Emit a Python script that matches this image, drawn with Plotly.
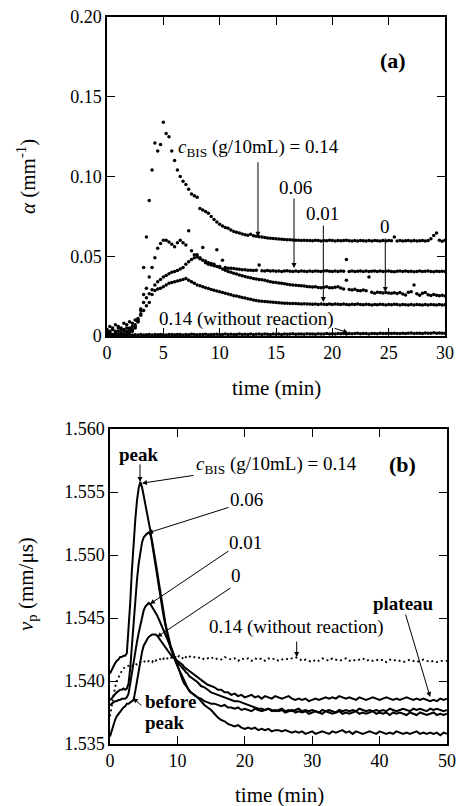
import plotly.graph_objects as go

# ---------------- DATA ----------------
# Panel (a): attenuation alpha, in 10^-3 mm^-1, sampled every 0.25 min from 0 to 30 min
t_a = [i * 0.25 for i in range(121)]

a_014 = [4, 6, 5, 7, 6, 5, 8, 7, 9, 8, 10, 11,
         16, 43, 62, 85, 104, 121, 116, 120, 134, 127, 125, 116,
         110, 104, 100, 97, 95, 92, 89, 88, 87, 80, 79, 78,
         77, 75, 73, 71.5, 70, 69, 68, 67.5, 66.5, 65.5, 65, 64.5,
         64, 63.5, 63.2, 63.8, 62.8, 62.5, 62.2, 62, 61.8, 61.5, 61.3, 61.1,
         61, 60.8, 60.6, 60.5, 60.4, 60.3, 60.2, 60, 60.1, 59.9, 60, 59.8,
         59.9, 59.7, 60, 59.8, 59.6, 59.9, 59.7, 60, 59.8, 59.6, 59.9, 59.7,
         59.8, 60, 59.7, 59.5, 59.8, 59.6, 59.9, 59.7, 59.5, 59.8, 59.6, 59.9,
         59.7, 59.5, 59.8, 59.6, 59.9, 59.7, 62, 59.6, 59.8, 59.5, 59.7, 59.9,
         59.6, 59.8, 59.5, 59.7, 59.9, 59.6, 59.8, 61, 63, 64.5, 60, 59.4,
         60]

a_006 = [3, 2, 4, 3, 5, 4, 3, 5, 4, 6, 7, 10,
         17, 26, 30, 37, 43, 49, 55, 58, 60, 60, 59, 57.5,
         56, 58.5, 60, 58.5, 57, 66, 53.5, 51, 49.5, 48.5, 47.5, 47,
         46, 45.5, 45, 54, 43.5, 47.5, 43, 42.5, 42.5, 42.3, 42, 41.8,
         41.6, 41.5, 41.3, 41.2, 41, 41.3, 44.5, 40.9, 40.8, 41, 40.7, 40.9,
         40.6, 40.8, 40.5, 40.7, 40.9, 40.6, 40.4, 40.7, 40.5, 40.8, 40.6, 40.4,
         40.7, 40.5, 40.8, 40.6, 40.4, 40.7, 40.9, 40.6, 40.4, 40.7, 40.5, 40.8,
         40.6, 48, 40.5, 40.7, 40.4, 40.6, 40.8, 40.5, 40.7, 40.4, 40.6, 40.8,
         40.5, 40.7, 40.4, 40.6, 40.8, 40.5, 40.3, 40.6, 40.8, 40.5, 40.7, 40.4,
         40.6, 40.3, 40.5, 40.7, 40.4, 40.6, 40.8, 40.5, 40.3, 40.6, 40.4, 40.6,
         40.5]

a_001 = [2, 3, 1, 2, 3, 2, 4, 3, 5, 4, 6, 9,
         14, 21, 24, 26.5, 29, 32, 34, 35.5, 37, 38, 39, 40,
         40.5, 41, 42, 43, 45, 46.5, 48, 49, 51, 49, 55.5, 46,
         45, 44.5, 44, 43.5, 43, 42, 41.3, 40.5, 40, 39.3, 38.8, 38.2,
         37.8, 37.3, 36.8, 36.5, 36, 35.8, 35.5, 35.3, 35, 34.5, 34, 33.7,
         33.5, 33.2, 33, 32.8, 32.5, 32.2, 32, 31.8, 31.7, 31.5, 31.3, 31,
         30.8, 30.7, 30.8, 30.4, 30.2, 30.5, 30.8, 30.3, 30.2, 30.6, 30.9, 30.1,
         29.5, 35, 29.2, 28.8, 29.3, 28.6, 28.3, 28.9, 28.4, 37, 27.5, 26.8,
         27.5, 27.2, 27, 27.3, 27, 26.8, 27.1, 26.6, 27.2, 26.3, 25.7, 27.5,
         27.8, 32, 26.5, 25.6, 26.8, 27.3, 25.8, 25.4, 26, 25.5, 25.2, 25.5,
         25]

a_000 = [1, 1.5, 1, 0.5, 1, 1.5, 1, 2, 2.5, 3, 5, 9,
         13, 16, 19, 21, 26, 28.5, 29.5, 30, 30.8, 32, 33, 33.5,
         34, 34.5, 35, 35.5, 36, 35, 34, 33, 32, 31.5, 30.8, 30.2,
         29.8, 29.2, 28.7, 28.2, 27.8, 27.2, 26.8, 26.3, 25.8, 25.3, 25, 24.6,
         24.2, 23.8, 23.4, 23, 22.6, 22.3, 22, 21.8, 21.6, 21.4, 21.3, 21.1,
         21, 20.9, 20.7, 20.6, 20.5, 20.4, 20.3, 20.3, 20.2, 20.1, 20.2, 20,
         20.1, 19.9, 20, 19.8, 20.1, 19.9, 19.7, 20, 19.8, 20.1, 19.9, 19.7,
         20, 19.8, 19.6, 19.9, 19.7, 20, 19.8, 19.6, 19.9, 19.7, 19.5, 19.8,
         19.6, 19.9, 19.7, 19.5, 19.8, 19.6, 19.9, 19.7, 19.5, 19.8, 19.6, 19.4,
         19.7, 19.5, 19.8, 19.6, 19.4, 19.7, 19.5, 19.8, 19.6, 19.4, 19.7, 19.5,
         19.6]

a_014_noreact = [0.5, 0.8, 0.6, 0.9, 0.7, 0.5, 0.8, 0.6, 0.9, 0.7, 0.8, 0.6,
                 0.9, 0.7, 0.8, 1.0, 0.7, 0.9, 0.8, 1.0, 0.8, 0.7, 1.0, 0.9,
                 0.8, 1.0, 0.9, 0.7, 1.0, 0.8, 1.1, 0.9, 0.8, 1.0, 0.9, 1.1,
                 0.8, 1.0, 0.9, 1.1, 0.9, 1.0, 1.2, 0.9, 1.1, 1.0, 0.9, 1.2,
                 1.0, 1.1, 0.9, 1.2, 1.0, 1.1, 1.3, 1.0, 1.2, 1.1, 1.0, 1.3,
                 1.1, 1.2, 1.0, 1.3, 1.1, 1.2, 1.4, 1.1, 1.3, 1.2, 1.1, 1.4,
                 1.2, 1.3, 1.1, 1.4, 1.2, 1.3, 1.5, 1.2, 1.4, 1.3, 1.6, 1.4,
                 1.5, 1.3, 1.6, 1.4, 1.5, 1.7, 1.4, 1.6, 1.5, 1.3, 1.6, 1.5,
                 1.4, 1.7, 1.5, 1.6, 1.8, 1.5, 1.7, 1.6, 1.5, 1.8, 1.6, 1.7,
                 1.9, 1.6, 1.8, 1.7, 1.6, 1.9, 1.7, 1.8, 2.0, 1.7, 1.9, 1.8,
                 1.8]

# Panel (b): phase velocity v_p (mm/us); every 0.25 min up to 12 min, then every 0.5 min to 50 min
t_b = [i * 0.25 for i in range(49)] + [12.5 + i * 0.5 for i in range(76)]

v_014 = [1.5406, 1.5409, 1.5411, 1.5414, 1.5416, 1.5417, 1.5419, 1.5419, 1.5420, 1.5420, 1.5422, 1.5440,
         1.5462, 1.5488, 1.5510, 1.5528, 1.5543, 1.5553, 1.5558, 1.5554, 1.5547, 1.5540, 1.5535, 1.5528,
         1.5519, 1.5509, 1.5500, 1.5491, 1.5482, 1.5474, 1.5466, 1.5458, 1.5450, 1.5443, 1.5437, 1.5431,
         1.5426, 1.5422, 1.5419, 1.5415, 1.5412, 1.5409, 1.5406, 1.5403, 1.5400, 1.5397, 1.5394, 1.5392,
         1.5391,
         1.5389, 1.5387, 1.5384, 1.5381, 1.5379, 1.5377, 1.5374, 1.5371, 1.5369, 1.5368,
         1.5366, 1.5365, 1.5364, 1.5365, 1.5363, 1.5362, 1.5363, 1.5362, 1.5363, 1.5361,
         1.5362, 1.5361, 1.5362, 1.5360, 1.5361, 1.5361, 1.5360, 1.5361, 1.5360, 1.5359,
         1.5360, 1.5359, 1.5360, 1.5358, 1.5359, 1.5360, 1.5358, 1.5359, 1.5360, 1.5359,
         1.5358, 1.5360, 1.5359, 1.5360, 1.5361, 1.5359, 1.5360, 1.5358, 1.5360, 1.5359,
         1.5358, 1.5359, 1.5360, 1.5359, 1.5358, 1.5360, 1.5359, 1.5358, 1.5359, 1.5358,
         1.5360, 1.5359, 1.5358, 1.5359, 1.5358, 1.5359, 1.5360, 1.5358, 1.5359, 1.5358,
         1.5359, 1.5358, 1.5359, 1.5357, 1.5359, 1.5358]

v_006 = [1.5385, 1.5386, 1.5388, 1.5390, 1.5391, 1.5392, 1.5393, 1.5393, 1.5394, 1.5393, 1.5394, 1.5398,
         1.5410, 1.5428, 1.5447, 1.5465, 1.5480, 1.5493, 1.5503, 1.5510, 1.5514, 1.5516, 1.5517, 1.5518,
         1.5516, 1.5511, 1.5504, 1.5496, 1.5487, 1.5478, 1.5469, 1.5460, 1.5452, 1.5445, 1.5439, 1.5433,
         1.5428, 1.5424, 1.5420, 1.5416, 1.5413, 1.5409, 1.5405, 1.5401, 1.5398, 1.5396, 1.5394, 1.5392,
         1.5391,
         1.5389, 1.5387, 1.5386, 1.5384, 1.5383, 1.5382, 1.5382, 1.5381, 1.5380, 1.5381,
         1.5379, 1.5379, 1.5378, 1.5379, 1.5377, 1.5378, 1.5377, 1.5376, 1.5378, 1.5377,
         1.5376, 1.5377, 1.5378, 1.5376, 1.5377, 1.5376, 1.5377, 1.5375, 1.5376, 1.5377,
         1.5375, 1.5376, 1.5375, 1.5376, 1.5374, 1.5375, 1.5376, 1.5375, 1.5374, 1.5376,
         1.5375, 1.5374, 1.5375, 1.5376, 1.5374, 1.5375, 1.5374, 1.5375, 1.5376, 1.5374,
         1.5375, 1.5374, 1.5375, 1.5376, 1.5374, 1.5375, 1.5374, 1.5375, 1.5373, 1.5375,
         1.5374, 1.5375, 1.5374, 1.5373, 1.5375, 1.5374, 1.5373, 1.5375, 1.5374, 1.5373,
         1.5374, 1.5375, 1.5373, 1.5374, 1.5373, 1.5374]

v_001 = [1.5381, 1.5382, 1.5383, 1.5384, 1.5384, 1.5385, 1.5385, 1.5386, 1.5386, 1.5386, 1.5387, 1.5390,
         1.5398, 1.5407, 1.5416, 1.5424, 1.5431, 1.5438, 1.5445, 1.5451, 1.5456, 1.5459, 1.5461, 1.5462,
         1.5461, 1.5459, 1.5457, 1.5455, 1.5452, 1.5449, 1.5446, 1.5443, 1.5440, 1.5437, 1.5434, 1.5431,
         1.5428, 1.5424, 1.5420, 1.5417, 1.5415, 1.5413, 1.5412, 1.5410, 1.5409, 1.5407, 1.5406, 1.5404,
         1.5403,
         1.5401, 1.5399, 1.5396, 1.5395, 1.5393, 1.5391, 1.5390, 1.5389, 1.5388, 1.5387,
         1.5386, 1.5385, 1.5384, 1.5384, 1.5383, 1.5382, 1.5381, 1.5380, 1.5379, 1.5378,
         1.5378, 1.5377, 1.5378, 1.5377, 1.5376, 1.5377, 1.5378, 1.5376, 1.5377, 1.5376,
         1.5377, 1.5378, 1.5376, 1.5377, 1.5376, 1.5377, 1.5376, 1.5375, 1.5377, 1.5376,
         1.5377, 1.5376, 1.5375, 1.5377, 1.5376, 1.5377, 1.5376, 1.5377, 1.5376, 1.5378,
         1.5377, 1.5376, 1.5377, 1.5376, 1.5377, 1.5376, 1.5377, 1.5376, 1.5378, 1.5377,
         1.5376, 1.5377, 1.5378, 1.5377, 1.5376, 1.5378, 1.5377, 1.5378, 1.5377, 1.5376,
         1.5378, 1.5377, 1.5378, 1.5377, 1.5376, 1.5377]

v_000 = [1.5356, 1.5361, 1.5366, 1.5369, 1.5372, 1.5374, 1.5376, 1.5378, 1.5379, 1.5380, 1.5382, 1.5382,
         1.5383, 1.5384, 1.5385, 1.5392, 1.5400, 1.5409, 1.5417, 1.5423, 1.5428, 1.5431, 1.5433, 1.5435,
         1.5436, 1.5437, 1.5437, 1.5437, 1.5436, 1.5434, 1.5432, 1.5430, 1.5428, 1.5426, 1.5424, 1.5422,
         1.5421, 1.5419, 1.5418, 1.5417, 1.5416, 1.5415, 1.5414, 1.5413, 1.5411, 1.5410, 1.5409, 1.5408,
         1.5407,
         1.5405, 1.5403, 1.5401, 1.5399, 1.5397, 1.5396, 1.5395, 1.5393, 1.5393, 1.5391,
         1.5391, 1.5389, 1.5390, 1.5388, 1.5389, 1.5387, 1.5388, 1.5389, 1.5387, 1.5388,
         1.5386, 1.5388, 1.5387, 1.5386, 1.5388, 1.5387, 1.5386, 1.5387, 1.5388, 1.5386,
         1.5385, 1.5386, 1.5385, 1.5386, 1.5384, 1.5385, 1.5386, 1.5385, 1.5386, 1.5387,
         1.5386, 1.5387, 1.5386, 1.5388, 1.5387, 1.5386, 1.5387, 1.5386, 1.5385, 1.5387,
         1.5386, 1.5385, 1.5386, 1.5387, 1.5386, 1.5385, 1.5386, 1.5387, 1.5386, 1.5385,
         1.5386, 1.5385, 1.5386, 1.5387, 1.5386, 1.5385, 1.5386, 1.5385, 1.5386, 1.5385,
         1.5384, 1.5385, 1.5384, 1.5386, 1.5385, 1.5386]

v_014_noreact = [1.5372, 1.5381, 1.5389, 1.5395, 1.5400, 1.5403, 1.5406, 1.5408, 1.5410, 1.5411, 1.5412, 1.5412,
                 1.5413, 1.5412, 1.5413, 1.5414, 1.5413, 1.5414, 1.5415, 1.5414, 1.5415, 1.5416, 1.5415, 1.5416,
                 1.5416, 1.5415, 1.5417, 1.5416, 1.5417, 1.5418, 1.5417, 1.5416, 1.5418, 1.5417, 1.5418, 1.5417,
                 1.5418, 1.5419, 1.5418, 1.5419, 1.5418, 1.5420, 1.5419, 1.5418, 1.5420, 1.5419, 1.5418, 1.5419,
                 1.5420,
                 1.5419, 1.5418, 1.5419, 1.5417, 1.5418, 1.5419, 1.5417, 1.5418, 1.5417, 1.5419,
                 1.5418, 1.5417, 1.5418, 1.5416, 1.5418, 1.5417, 1.5418, 1.5416, 1.5418, 1.5417,
                 1.5418, 1.5416, 1.5418, 1.5417, 1.5418, 1.5416, 1.5417, 1.5418, 1.5417, 1.5418,
                 1.5419, 1.5418, 1.5416, 1.5417, 1.5416, 1.5415, 1.5417, 1.5416, 1.5418, 1.5417,
                 1.5416, 1.5418, 1.5417, 1.5416, 1.5417, 1.5418, 1.5416, 1.5417, 1.5416, 1.5417,
                 1.5418, 1.5416, 1.5417, 1.5416, 1.5417, 1.5416, 1.5417, 1.5415, 1.5417, 1.5416,
                 1.5417, 1.5416, 1.5415, 1.5416, 1.5417, 1.5416, 1.5415, 1.5416, 1.5417, 1.5416,
                 1.5415, 1.5416, 1.5415, 1.5416, 1.5416, 1.5416]

xticks_a = [0, 5, 10, 15, 20, 25, 30]
yticks_a = [0, 0.05, 0.10, 0.15, 0.20]
yticklabels_a = ["0", "0.05", "0.10", "0.15", "0.20"]
xticks_b = [0, 10, 20, 30, 40, 50]
yticks_b = [1.535, 1.540, 1.545, 1.550, 1.555, 1.560]
yticklabels_b = ["1.535", "1.540", "1.545", "1.550", "1.555", "1.560"]

# ---------------- FIGURE ----------------
W, H = 457, 806
FONT = "Liberation Serif"


def PX(x):
    return x / W


def PY(y):
    return 1 - y / H


fig = go.Figure()

for vals in [a_014, a_006, a_001, a_000, a_014_noreact]:
    n = min(len(vals), len(t_a))
    fig.add_trace(go.Scatter(x=t_a[:n], y=[v * 1e-3 for v in vals[:n]], mode="markers",
                             marker=dict(size=3.5, color="black"), xaxis="x", yaxis="y",
                             showlegend=False, hoverinfo="skip"))

for vals in [v_014, v_006, v_001, v_000]:
    n = min(len(vals), len(t_b))
    fig.add_trace(go.Scatter(x=t_b[:n], y=vals[:n], mode="lines",
                             line=dict(color="black", width=2), xaxis="x2", yaxis="y2",
                             showlegend=False, hoverinfo="skip"))
n = min(len(v_014_noreact), len(t_b))
fig.add_trace(go.Scatter(x=t_b[:n], y=v_014_noreact[:n], mode="lines",
                         line=dict(color="black", width=1.8, dash="2px,3px"), xaxis="x2", yaxis="y2",
                         showlegend=False, hoverinfo="skip"))

axis_common = dict(showgrid=False, zeroline=False, showline=True, linecolor="black", linewidth=1.5,
                   ticks="inside", ticklen=8, tickwidth=1.3, tickcolor="black", mirror="ticks",
                   tickfont=dict(family=FONT, size=18, color="black"), automargin=False)

fig.update_layout(
    width=W, height=H, margin=dict(l=0, r=0, t=0, b=0),
    paper_bgcolor="white", plot_bgcolor="white",
    font=dict(family=FONT, color="black"),
    xaxis=dict(domain=[PX(107), PX(445)], range=[0, 30], tickvals=xticks_a, anchor="y", **axis_common),
    yaxis=dict(domain=[PY(336), PY(17)], range=[0, 0.2], tickvals=yticks_a, ticktext=yticklabels_a,
               anchor="x", **axis_common),
    xaxis2=dict(domain=[PX(110), PX(447)], range=[0, 50], tickvals=xticks_b, anchor="y2", **axis_common),
    yaxis2=dict(domain=[PY(744), PY(429)], range=[1.535, 1.560], tickvals=yticks_b, ticktext=yticklabels_b,
                anchor="x2", **axis_common),
)

ann = []


def text_px(txt, x, y, size=19, bold=False, angle=0, xanchor="center"):
    s = "<b>%s</b>" % txt if bold else txt
    ann.append(dict(text=s, x=PX(x), y=PY(y), xref="paper", yref="paper", showarrow=False,
                    xanchor=xanchor, yanchor="middle", textangle=angle,
                    font=dict(family=FONT, size=size, color="black")))


def arrow(xd, yd, ax, ay, xr, yr):
    ann.append(dict(text="", x=xd, y=yd, xref=xr, yref=yr, ax=ax, ay=ay, showarrow=True,
                    arrowhead=2, arrowsize=1, arrowwidth=1, arrowcolor="black", standoff=0))


# axis titles
text_px("<i>α</i> (mm<sup>-1</sup>)", 26, 177, size=21, angle=-90)
text_px("time (min)", 276, 388, size=21)
text_px("<i>v</i><sub>p</sub> (mm/μs)", 27, 584, size=21, angle=-90)
text_px("time (min)", 279, 795, size=21)

# panel (a) labels
text_px("(a)", 393, 60, size=22, bold=True)
text_px("<i>c</i><sub>BIS</sub> (g/10mL) = 0.14", 176, 148, size=19, xanchor="left")
arrow(13.4, 0.0622, 0, -76, "x", "y")
text_px("0.06", 295, 187)
arrow(16.6, 0.0426, 0, -71, "x", "y")
text_px("0.01", 322, 214)
arrow(19.2, 0.0213, 0, -78, "x", "y")
text_px("0", 385, 227)
arrow(24.7, 0.0276, 0, -55, "x", "y")
text_px("0.14 (without reaction)", 246, 319)
arrow(21.4, 0.002, -15, -5, "x", "y")

# panel (b) labels
text_px("peak", 139, 454, bold=True)
arrow(4.45, 1.5558, 0, -19, "x2", "y2")
text_px("<i>c</i><sub>BIS</sub> (g/10mL) = 0.14", 194, 465, size=19, xanchor="left")
arrow(4.75, 1.5557, 53, -8, "x2", "y2")
text_px("(b)", 402, 465, size=22, bold=True)
text_px("0.06", 246, 499)
arrow(5.64, 1.55175, 82, -26, "x2", "y2")
text_px("0.01", 245, 542)
arrow(5.93, 1.54611, 80, -54, "x2", "y2")
text_px("0", 236, 575)
arrow(6.97, 1.54349, 75, -50, "x2", "y2")
text_px("0.14 (without reaction)", 296, 627)
arrow(27.7, 1.5419, 0, -17, "x2", "y2")
text_px("plateau", 403, 603, bold=True)
arrow(47.5, 1.53873, -25, -84, "x2", "y2")
text_px("before", 143, 701, bold=True, xanchor="left")
text_px("peak", 143, 722, bold=True, xanchor="left")
arrow(3.41, 1.53865, 10, 9, "x2", "y2")

fig.update_layout(annotations=ann)

fig.write_html("out.html", config={"displayModeBar": False},
               post_script="document.body.style.margin='0';document.body.style.overflow='hidden';")
